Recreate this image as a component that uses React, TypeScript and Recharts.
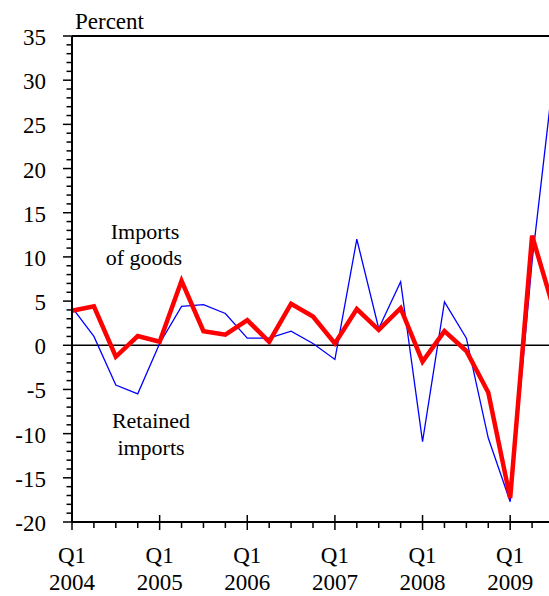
import { LineChart, Line, XAxis, YAxis, ReferenceLine } from 'recharts'

// quarters Q1 2004 .. Q3 2009
const quarters = [
  '2004 Q1', '2004 Q2', '2004 Q3', '2004 Q4',
  '2005 Q1', '2005 Q2', '2005 Q3', '2005 Q4',
  '2006 Q1', '2006 Q2', '2006 Q3', '2006 Q4',
  '2007 Q1', '2007 Q2', '2007 Q3', '2007 Q4',
  '2008 Q1', '2008 Q2', '2008 Q3', '2008 Q4',
  '2009 Q1', '2009 Q2', '2009 Q3',
]

const importsOfGoods = [
  4.3, 1.0, -4.5, -5.5,
  0.2, 4.4, 4.6, 3.6,
  0.8, 0.8, 1.6, 0.2,
  -1.6, 12.0, 1.9, 7.2,
  -10.9, 4.9, 0.8, -10.5,
  -17.7, 9.5, 31.0,
]

const retainedImports = [
  3.9, 4.4, -1.3, 1.05,
  0.4, 7.3, 1.6, 1.2,
  2.85, 0.4, 4.7, 3.25,
  0.2, 4.1, 1.75, 4.2,
  -1.85, 1.6, -0.65, -5.35,
  -17.3, 12.4, 4.0,
]

const yMajorTicks = [-20, -15, -10, -5, 0, 5, 10, 15, 20, 25, 30, 35]

const data = quarters.map((q, i) => ({
  idx: i,
  quarter: q,
  goods: importsOfGoods[i],
  retained: retainedImports[i],
}))

const xTicks = quarters.map((_, i) => i)
const yTicks: number[] = []
for (let v = yMajorTicks[0]; v <= yMajorTicks[yMajorTicks.length - 1]; v++) yTicks.push(v)

const FONT = "'Liberation Serif', 'Times New Roman', Times, serif"
const axisTxt = { fontFamily: FONT, fontSize: 23, fill: '#000' }
const noteTxt = { fontFamily: FONT, fontSize: 22, fill: '#000' }

const XTick = ({ x, y, payload }: any) => {
  const q = quarters[payload.value]
  const isQ1 = q.endsWith('Q1')
  return (
    <g>
      {isQ1 ? (
        <line x1={x} x2={x} y1={y - 7} y2={y + 8} stroke="#000" strokeWidth={1.5} />
      ) : (
        <line x1={x} x2={x} y1={y} y2={y + 6} stroke="#000" strokeWidth={1.5} />
      )}
      {isQ1 && (
        <text x={x} y={y + 41} textAnchor="middle" style={axisTxt}>
          Q1
        </text>
      )}
      {isQ1 && (
        <text x={x} y={y + 68} textAnchor="middle" style={axisTxt}>
          {q.slice(0, 4)}
        </text>
      )}
    </g>
  )
}

const YTick = ({ x, y, payload }: any) => {
  const isMajor = yMajorTicks.includes(payload.value)
  return (
    <g>
      <line x1={x - (isMajor ? 9 : 5.5)} x2={x} y1={y} y2={y} stroke="#000" strokeWidth={1.5} />
      {isMajor && (
        <text x={x - 26} y={y + 9} textAnchor="end" style={axisTxt}>
          {payload.value}
        </text>
      )}
    </g>
  )
}

export default function App() {
  return (
    <div style={{ position: 'fixed', left: 0, top: 0, width: 549, height: 596, overflow: 'hidden', background: '#fff' }}>
      <LineChart
        width={560}
        height={596}
        data={data}
        margin={{ top: 36, right: 6, bottom: 0, left: 0 }}
        style={{ fontFamily: FONT }}
      >
        <XAxis
          type="number"
          dataKey="idx"
          domain={[0, quarters.length - 1]}
          ticks={xTicks}
          interval={0}
          height={74}
          tickSize={0}
          tickMargin={0}
          tickLine={false}
          axisLine={{ stroke: '#000', strokeWidth: 2 }}
          tick={<XTick />}
        />
        <YAxis
          type="number"
          domain={[-20, 35]}
          ticks={yTicks}
          interval={0}
          width={72}
          tickSize={0}
          tickMargin={0}
          tickLine={false}
          axisLine={{ stroke: '#000', strokeWidth: 2 }}
          tick={<YTick />}
        />
        <ReferenceLine y={35} stroke="#000" strokeWidth={2} />
        <ReferenceLine y={0} stroke="#000" strokeWidth={1.5} />
        <Line
          type="linear"
          dataKey="goods"
          stroke="#0000ff"
          strokeWidth={1.3}
          dot={false}
          isAnimationActive={false}
        />
        <Line
          type="linear"
          dataKey="retained"
          stroke="#ff0000"
          strokeWidth={4.5}
          strokeLinejoin="miter"
          dot={false}
          isAnimationActive={false}
        />
        <text x={75} y={29} style={axisTxt}>Percent</text>
        <text x={145} y={239} textAnchor="middle" style={noteTxt}>Imports</text>
        <text x={144} y={265} textAnchor="middle" style={noteTxt}>of goods</text>
        <text x={151} y={428} textAnchor="middle" style={noteTxt}>Retained</text>
        <text x={151} y={455} textAnchor="middle" style={noteTxt}>imports</text>
      </LineChart>
    </div>
  )
}
